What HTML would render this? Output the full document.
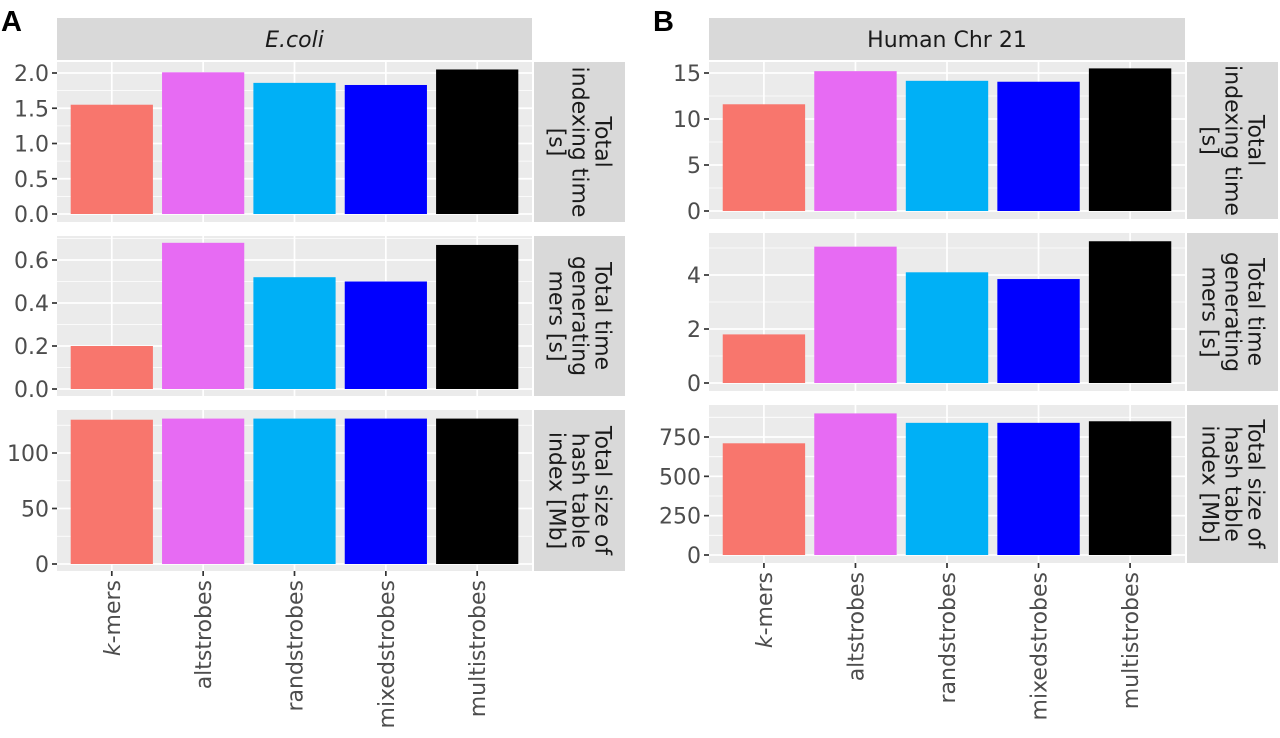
<!DOCTYPE html>
<html><head><meta charset="utf-8"><style>
body{margin:0;background:#fff;}
svg{display:block;font-family:"DejaVu Sans","Liberation Sans",sans-serif;}
</style></head><body>
<svg id="chart" width="1280" height="738" viewBox="0 0 1280 738" xmlns="http://www.w3.org/2000/svg"></svg>
<script>
const categories = ["k-mers","altstrobes","randstrobes","mixedstrobes","multistrobes"];
const colors = ["#F8766D","#E76BF3","#00B0F6","#0000FF","#000000"];
const ecoliIndexTime = [1.55, 2.01, 1.86, 1.83, 2.05];
const ecoliGenTime = [0.20, 0.68, 0.52, 0.50, 0.67];
const ecoliSize = [130, 131, 131, 131, 131];
const humanIndexTime = [11.6, 15.2, 14.15, 14.05, 15.5];
const humanGenTime = [1.8, 5.05, 4.1, 3.85, 5.25];
const humanSize = [710, 900, 840, 840, 850];
const ecoliTicks = [[0,0.5,1.0,1.5,2.0],[0,0.2,0.4,0.6],[0,50,100]];
const ecoliTickLabels = [["0.0","0.5","1.0","1.5","2.0"],["0.0","0.2","0.4","0.6"],["0","50","100"]];
const humanTicks = [[0,5,10,15],[0,2,4],[0,250,500,750]];
const humanTickLabels = [["0","5","10","15"],["0","2","4"],["0","250","500","750"]];
const rowTitles = [["Total","indexing time","[s]"],["Total time","generating","mers [s]"],["Total size of","hash table","index [Mb]"]];

const NS="http://www.w3.org/2000/svg";
const svg=document.getElementById('chart');
function mk(tag,attrs,parent){const e=document.createElementNS(NS,tag);for(const k in attrs)e.setAttribute(k,attrs[k]);(parent||svg).appendChild(e);return e;}

const FS=22;
const panelsDef=[
 {name:"ecoli",title:"E.coli",italic:true,x0:57,x1:532,letter:"A",letterX:1,
  rows:[{t:62,b:222,y0:214,vRef:2.0,yRef:73,data:ecoliIndexTime},
        {t:236,b:396,y0:389,vRef:0.6,yRef:260,data:ecoliGenTime},
        {t:410,b:571,y0:564,vRef:100,yRef:453,data:ecoliSize}],
  ticks:ecoliTicks,labels:ecoliTickLabels},
 {name:"human",title:"Human Chr 21",italic:false,x0:709,x1:1185,letter:"B",letterX:653,
  rows:[{t:62,b:219,y0:211,vRef:15,yRef:73,data:humanIndexTime},
        {t:233,b:391,y0:383,vRef:4,yRef:275,data:humanGenTime},
        {t:405,b:563,y0:555,vRef:750,yRef:437,data:humanSize}],
  ticks:humanTicks,labels:humanTickLabels}
];

panelsDef.forEach(p=>{
  const g=mk('g',{});
  
  
  const L=mk('text',{x:p.letterX,y:31,'font-size':29,'font-weight':'bold',fill:'#000','font-family':'Liberation Sans, sans-serif'},g);
  L.textContent=p.letter;
  
  
  const W=p.x1-p.x0;
  const unit=W/5.2;
  const xc=i=>p.x0+(i+0.6)*unit;
  const st=mk('rect',{x:p.x0,y:18,width:W,height:42,fill:'#D9D9D9'},g);
  
  
  const stt=mk('text',{x:p.x0+W/2,y:47,'text-anchor':'middle','font-size':FS,fill:'#1A1A1A','font-style':p.italic?'italic':'normal'},g);
  stt.textContent=p.title;
  
  
  p.rows.forEach((r,ri)=>{
    const scale=(r.y0-r.yRef)/r.vRef;
    const y=v=>r.y0-v*scale;
    const bg=mk('rect',{x:p.x0,y:r.t,width:W,height:r.b-r.t,fill:'#EBEBEB'},g);
    
    
    const ticks=p.ticks[ri];
    const step=ticks[1]-ticks[0];
    for(let k=0;k<ticks.length+1;k++){
      const v=ticks[0]+step*(k+0.5);const yy=y(v);
      if(yy>r.t&&yy<r.b){const ln=mk('line',{x1:p.x0,x2:p.x1,y1:yy,y2:yy,stroke:'#fff','stroke-width':0.8},g);
        }
    }
    ticks.forEach((v,k)=>{
      const yy=y(v);
      const ln=mk('line',{x1:p.x0,x2:p.x1,y1:yy,y2:yy,stroke:'#fff','stroke-width':1.7},g);
      
      const tk=mk('line',{x1:p.x0-5,x2:p.x0,y1:yy,y2:yy,stroke:'#333','stroke-width':1.7},g);
      
      const tl=mk('text',{x:p.x0-8,y:yy+8,'text-anchor':'end','font-size':FS,fill:'#4D4D4D'},g);
      tl.textContent=p.labels[ri][k];
      
    });
    categories.forEach((c,i)=>{
      const ln=mk('line',{x1:xc(i),x2:xc(i),y1:r.t,y2:r.b,stroke:'#fff','stroke-width':1.7},g);
      
    });
    categories.forEach((c,i)=>{
      const v=r.data[i];
      const b=mk('rect',{x:xc(i)-0.45*unit,y:y(v),width:0.9*unit,height:r.y0-y(v),fill:colors[i]},g);
      
      
    });
    const sx=p.x1+2, sw=91;
    const rs=mk('rect',{x:sx,y:r.t,width:sw,height:r.b-r.t,fill:'#D9D9D9'},g);
    
    const cy=(r.t+r.b)/2;
    const tx=mk('text',{transform:`translate(${sx+sw/2},${cy}) rotate(90)`,'text-anchor':'middle','font-size':FS,fill:'#1A1A1A'},g);
    
    rowTitles[ri].forEach((s,li)=>{const ts=mk('tspan',{x:0,y:(li-1)*23+7},tx);ts.textContent=s;});
  });
  const lastB=p.rows[2].b;
  categories.forEach((c,i)=>{
    const tk=mk('line',{x1:xc(i),x2:xc(i),y1:lastB,y2:lastB+5,stroke:'#333','stroke-width':1.7},g);
    
    const t=mk('text',{transform:`translate(${xc(i)+8},${lastB+9}) rotate(-90)`,'text-anchor':'end','font-size':FS,fill:'#4D4D4D'},g);
    
    if(c==="k-mers"){const a=mk('tspan',{'font-style':'italic'},t);a.textContent='k';const b=mk('tspan',{},t);b.textContent='-mers';}
    else t.textContent=c;
  });
});
</script>
</body></html>
